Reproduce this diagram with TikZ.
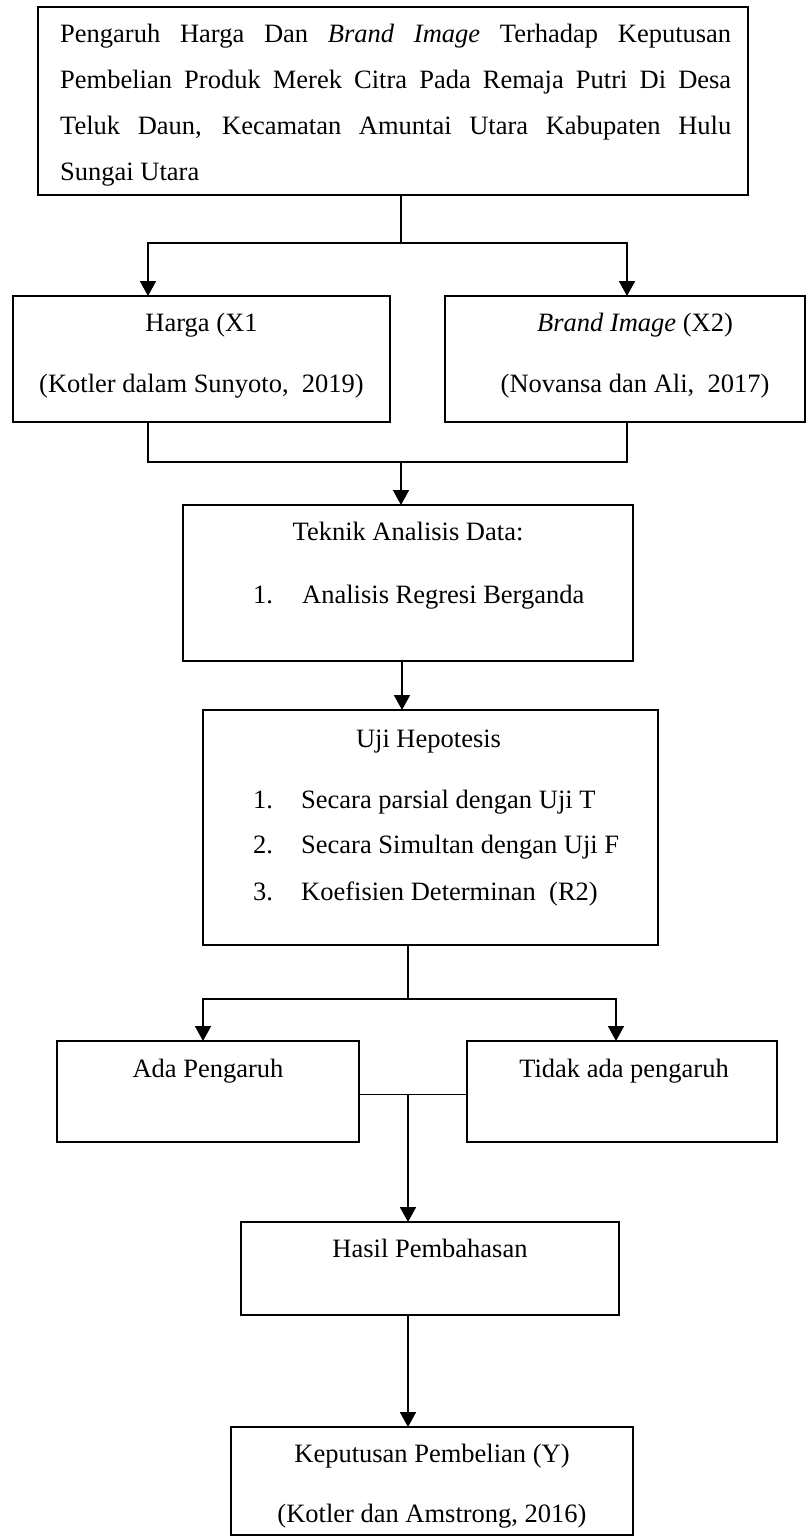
\documentclass[tikz,border=0pt]{standalone}
\usepackage{fontspec}
\setmainfont{Liberation Serif}
\usetikzlibrary{positioning,arrows.meta,calc}

\begin{document}
\begin{tikzpicture}[
                x=1pt, y=1pt,
                box/.style={draw, line width=1.8pt, inner sep=0pt, outer sep=0pt},
                txt/.style={inner sep=0pt, anchor=base, font=\fontsize{26.5}{32}\selectfont},
                conn/.style={line width=1.3pt},
                arr/.style={line width=1.8pt, -{Triangle[length=15pt, width=16pt]}}
            ]
                \useasboundingbox (0,0) rectangle (807,-1536);

                % Top: research title
                \node[box, minimum width=710pt, minimum height=188pt] (judul) at (393,-101) {};
                \node[txt, anchor=base west] (judulA) at ([xshift=22pt, yshift=-36pt]judul.north west) {\makebox[671pt][s]{Pengaruh Harga Dan \textit{Brand Image} Terhadap Keputusan}};
                \node[txt, anchor=base west] (judulB) at ([xshift=22pt, yshift=-82pt]judul.north west) {\makebox[671pt][s]{Pembelian Produk Merek Citra Pada Remaja Putri Di Desa}};
                \node[txt, anchor=base west] (judulC) at ([xshift=22pt, yshift=-128pt]judul.north west) {\makebox[671pt][s]{Teluk Daun, Kecamatan Amuntai Utara Kabupaten Hulu}};
                \node[txt, anchor=base west] (judulD) at ([xshift=22pt, yshift=-173pt]judul.north west) {Sungai Utara};

                % Variables
                \node[box, minimum width=377pt, minimum height=126pt, below=101pt of judul, xshift=-191.5pt] (harga) {};
                \node[box, minimum width=360pt, minimum height=126pt, right=55pt of harga] (brand) {};
                \node[txt] (hargaA) at ([yshift=-35pt]harga.north) {Harga (X1};
                \node[txt] (hargaB) at ([yshift=-96pt]harga.north) {(Kotler dalam Sunyoto,\ \ 2019)};
                \node[txt] (brandA) at ([xshift=10pt, yshift=-35pt]brand.north) {\textit{Brand Image} (X2)};
                \node[txt] (brandB) at ([xshift=10pt, yshift=-96pt]brand.north) {(Novansa dan Ali,\ \ 2017)};

                \coordinate (forkA) at ($(judul.south)+(8,-48)$);
                \draw[conn] (forkA |- judul.south) -- (forkA);
                \draw[arr] (forkA) -| ([xshift=-53.5pt]harga.north);
                \draw[arr] (forkA) -| ([xshift=2pt]brand.north);

                % Analysis
                \node[box, minimum width=450pt, minimum height=156pt, below=83pt of harga, xshift=206.5pt] (teknik) {};
                \node[txt] (teknikA) at ([yshift=-35pt]teknik.north) {Teknik Analisis Data:};
                \node[txt, anchor=base west] (teknikB) at ([xshift=70pt, yshift=-98pt]teknik.north west) {\makebox[49pt][l]{1.}Analisis Regresi Berganda};

                \coordinate (joinA) at ($(forkA |- harga.south)+(0,-40)$);
                \draw[conn] ([xshift=-53.5pt]harga.south) |- (joinA) -| ([xshift=2pt]brand.south);
                \draw[arr] (joinA) -- (joinA |- teknik.north);

                % Hypothesis test
                \node[box, minimum width=455pt, minimum height=235pt, below=49pt of teknik, xshift=22.5pt] (uji) {};
                \node[txt] (ujiA) at ([xshift=-2pt, yshift=-37pt]uji.north) {Uji Hepotesis};
                \node[txt, anchor=base west] (uji1) at ([xshift=50pt, yshift=-98pt]uji.north west) {\makebox[48pt][l]{1.}Secara parsial dengan Uji T};
                \node[txt, anchor=base west] (uji2) at ([xshift=50pt, yshift=-143pt]uji.north west) {\makebox[48pt][l]{2.}Secara Simultan dengan Uji F};
                \node[txt, anchor=base west] (uji3) at ([xshift=50pt, yshift=-190pt]uji.north west) {\makebox[48pt][l]{3.}Koefisien Determinan\ \ (R2)};

                \coordinate (joinT) at ($(teknik.south)+(-6,0)$);
                \draw[arr] (joinT) -- (joinT |- uji.north);

                % Outcomes
                \node[box, minimum width=302pt, minimum height=101pt, below=96pt of uji, xshift=-222.5pt] (ada) {};
                \node[box, minimum width=310pt, minimum height=101pt, right=108pt of ada] (tidak) {};
                \node[txt] (adaA) at ([yshift=-36pt]ada.north) {Ada Pengaruh};
                \node[txt] (tidakA) at ([xshift=2pt, yshift=-36pt]tidak.north) {Tidak ada pengaruh};

                \coordinate (forkB) at ($(uji.south)+(-22.5,-54)$);
                \draw[conn] (forkB |- uji.south) -- (forkB);
                \draw[arr] (forkB) -| ([xshift=-5pt]ada.north);
                \draw[arr] (forkB) -| ([xshift=-6pt]tidak.north);

                % Result
                \node[box, minimum width=378pt, minimum height=93pt, below=80pt of ada, xshift=222pt] (hasil) {};
                \node[txt] (hasilA) at ([yshift=-35pt]hasil.north) {Hasil Pembahasan};

                \coordinate (joinB) at ($(forkB |- ada.east)+(0,-3)$);
                \draw[conn] ([yshift=-3pt]ada.east) -- ([yshift=-3pt]tidak.west);
                \draw[arr] (joinB) -- (joinB |- hasil.north);

                % Decision
                \node[box, minimum width=402pt, minimum height=108pt, below=112pt of hasil, xshift=2pt] (keputusan) {};
                \node[txt] (keputusanA) at ([yshift=-35pt]keputusan.north) {Keputusan Pembelian (Y)};
                \node[txt] (keputusanB) at ([yshift=-95pt]keputusan.north) {(Kotler dan Amstrong, 2016)};

                \draw[arr] (joinB |- hasil.south) -- (joinB |- keputusan.north);
            \end{tikzpicture}
\end{document}
